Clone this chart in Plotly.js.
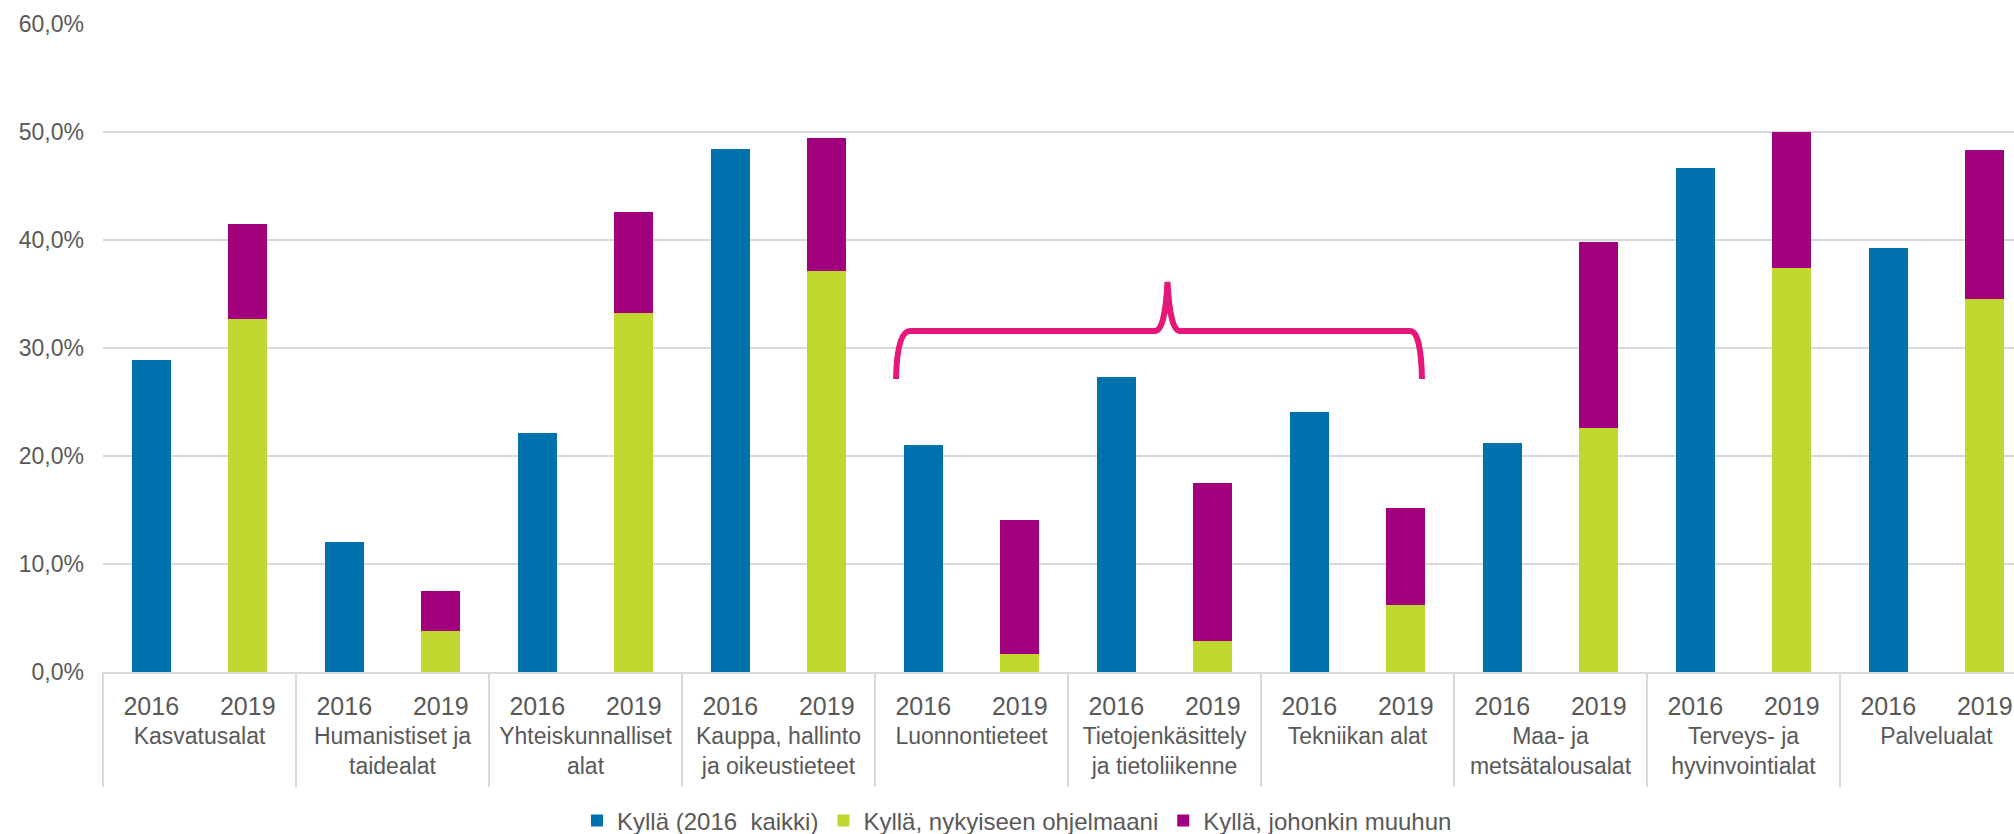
<!DOCTYPE html>
<html>
<head>
<meta charset="utf-8">
<script src="https://cdn.plot.ly/plotly-3.0.1.min.js"></script>
<style>
html,body{margin:0;padding:0;background:#fff;overflow:hidden;}
#chart{width:2014px;height:834px;}
/* field-name row: slightly smaller text and a bit more space below the year row */
#chart g.xtick2 { transform: translate(0px, 10px); }
#chart g.xtick2 text { font-size: 23px !important; }
</style>
</head>
<body>
<div id="chart"></div>
<script>
// ---- data ----
const fields = [
  "Kasvatusalat",
  "Humanistiset ja<br>taidealat",
  "Yhteiskunnalliset<br>alat",
  "Kauppa, hallinto<br>ja oikeustieteet",
  "Luonnontieteet",
  "Tietojenkäsittely<br>ja tietoliikenne",
  "Tekniikan alat",
  "Maa- ja<br>metsätalousalat",
  "Terveys- ja<br>hyvinvointialat",
  "Palvelualat"
];
const years = ["2016", "2019"];
// 2016: all "yes"
const yes2016 = [28.9, 12.0, 22.1, 48.4, 21.0, 27.3, 24.1, 21.2, 46.7, 39.3];
// 2019: yes, to current programme
const yesCurrent2019 = [32.7, 3.8, 33.2, 37.1, 1.7, 2.9, 6.2, 22.6, 37.4, 34.5];
// 2019: yes, to some other programme
const yesOther2019 = [8.8, 3.7, 9.4, 12.3, 12.4, 14.6, 9.0, 17.2, 12.6, 13.8];

const seriesNames = ["Kyllä (2016  kaikki)", "Kyllä, nykyiseen ohjelmaani", "Kyllä, johonkin muuhun"];
const seriesColors = ["#0071AF", "#C0D72F", "#A3007E"];
const yTickVals = [0, 10, 20, 30, 40, 50, 60];
const yTickText = yTickVals.map(v => v.toFixed(1).replace(".", ",") + "%");

// ---- build multicategory x ----
const xOuter = [], xInner = [];
fields.forEach(f => years.forEach(y => { xOuter.push(f); xInner.push(y); }));
const blueY = [], greenY = [], purpleY = [];
fields.forEach((f, i) => {
  blueY.push(yes2016[i]); blueY.push(null);
  greenY.push(null); greenY.push(yesCurrent2019[i]);
  purpleY.push(null); purpleY.push(yesOther2019[i]);
});

const FAM = "Liberation Sans, Arial, sans-serif";
const GREY = "#595959";
const font = {family: FAM, size: 23, color: GREY};

const traces = [blueY, greenY, purpleY].map((yy, k) => ({
  type: "bar",
  name: seriesNames[k],
  x: [xOuter, xInner],
  y: yy,
  marker: {color: seriesColors[k]},
  width: 0.4,
  hoverinfo: "y+name"
}));

// plot geometry
const W = 2014, H = 834;
const mL = 103, mR = 0, mT = 24, mB = 162;
const plotW = W - mL - mR, plotH = H - mT - mB;
const catPx = 96.5;
const xMax = -0.5 + plotW / catPx;

function px(x){ return ((x - mL) / plotW).toFixed(5); }
function py(y){ return ((H - mB - y) / plotH).toFixed(5); }

// group dividers below the axis (at group boundaries)
const shapes = [];
for (let g = 0; g <= fields.length; g++) {
  const idx = -0.5 + 2 * g;
  if (idx > xMax) break;
  const xp = (idx + 0.5) / (xMax + 0.5);
  shapes.push({type: "line", xref: "paper", yref: "paper",
    x0: xp, x1: xp, y0: 0, y1: -115 / plotH,
    line: {color: "#D9D9D9", width: 2}});
}

// brace annotation
const braceP = [
  [896,379],[897,345],[899,331],[910,331],
  [1155,331],[1165,331],[1166,300],[1167.5,282],[1169,300],[1170,331],[1180,331],
  [1410,331],[1419,331],[1421,345],[1422,379]
];
const bp = braceP.map(p => [px(p[0]), py(p[1])]);
const bracePath =
  `M${bp[0][0]},${bp[0][1]} Q${bp[1][0]},${bp[2][1]} ${bp[3][0]},${bp[3][1]} ` +
  `L${bp[4][0]},${bp[4][1]} Q${bp[5][0]},${bp[5][1]} ${bp[7][0]},${bp[7][1]} ` +
  `Q${bp[9][0]},${bp[9][1]} ${bp[10][0]},${bp[10][1]} ` +
  `L${bp[11][0]},${bp[11][1]} Q${bp[13][0]},${bp[11][1]} ${bp[14][0]},${bp[14][1]}`;
shapes.push({type: "path", xref: "paper", yref: "paper", path: bracePath,
  line: {color: "#E5177B", width: 6}});

const layout = {
  width: W, height: H,
  margin: {l: mL, r: mR, t: mT, b: mB, pad: 0, autoexpand: false},
  paper_bgcolor: "#fff", plot_bgcolor: "#fff",
  barmode: "stack",
  font: font,
  showlegend: true,
  legend: {
    orientation: "h",
    xref: "container", yref: "container",
    x: 1017 / W, xanchor: "center",
    y: 1 - 821 / H, yanchor: "middle",
    font: {family: FAM, size: 24, color: GREY},
    itemwidth: 30, traceorder: "normal"
  },
  xaxis: {
    type: "multicategory",
    range: [-0.5, xMax],
    showgrid: false,
    showline: true, linecolor: "#D9D9D9", linewidth: 2,
    showdividers: false,
    ticks: "", ticklabelstandoff: 11,
    tickfont: {family: FAM, size: 25, color: GREY},
    fixedrange: true
  },
  yaxis: {
    range: [0, 60],
    tickmode: "array", tickvals: yTickVals, ticktext: yTickText,
    showgrid: true, gridcolor: "#D9D9D9", gridwidth: 2,
    zeroline: false, showline: false,
    ticks: "", ticklabelstandoff: 18,
    tickfont: font,
    fixedrange: true
  },
  shapes: shapes
};

Plotly.newPlot("chart", traces, layout, {displayModeBar: false, staticPlot: true});
</script>
</body>
</html>
